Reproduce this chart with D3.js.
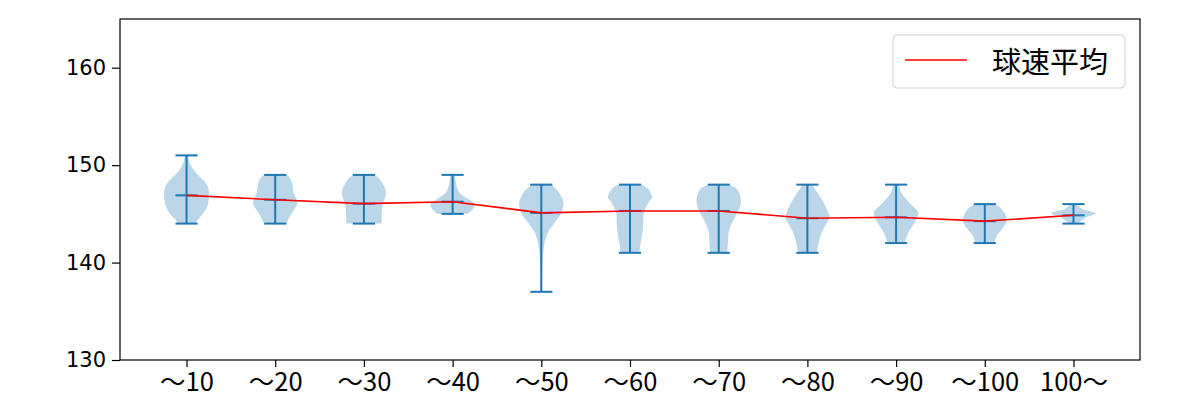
<!DOCTYPE html>
<html>
<head>
<meta charset="utf-8">
<script src="https://cdn.jsdelivr.net/npm/d3@7"></script>
<style>
  html, body { margin: 0; padding: 0; background: #fff; }
  svg { display: block; }
</style>
</head>
<body>
<svg id="chart" width="1200" height="400"></svg>
<script>
// ---------- data ----------
const categories = ["〜10", "〜20", "〜30", "〜40", "〜50", "〜60", "〜70", "〜80", "〜90", "〜100", "100〜"];
const minValues  = [144, 144, 144, 145, 137, 141, 141, 141, 142, 142, 144];
const maxValues  = [151, 149, 149, 149, 148, 148, 148, 148, 148, 146, 146];
const meanValues = [146.9, 146.45, 146.05, 146.25, 145.1, 145.3, 145.3, 144.55, 144.65, 144.25, 144.85];
// density profiles: [speed, relative density]
const densities = [
  [[144,0.4],[144.4,0.5],[145.1,0.77],[145.8,0.94],[146.5,1],[147.5,1],[148.2,0.86],[149.25,0.41],[150.2,0.15],[151,0.08]],
  [[144,0.5],[144.8,0.68],[145.5,0.87],[146.15,1],[147.2,0.83],[148.2,0.76],[148.8,0.62],[149,0.5]],
  [[144,0.8],[145,0.8],[145.8,0.83],[146.5,0.92],[147.2,1],[148.2,0.83],[148.7,0.65],[149,0.5]],
  [[145,0.7],[145.5,0.92],[146,1],[146.5,0.72],[147,0.38],[147.5,0.23],[148.2,0.15],[149,0.1]],
  [[137,0.03],[139.3,0.04],[141,0.08],[142,0.15],[143.1,0.3],[144.1,0.6],[145.1,0.9],[146.15,1],[147.2,0.8],[148,0.45]],
  [[141,0.42],[142,0.48],[143.1,0.56],[144.1,0.6],[145.1,0.62],[146.15,0.83],[146.7,1],[147.2,0.92],[147.7,0.75],[148,0.53]],
  [[141,0.38],[142,0.42],[143.1,0.45],[144.1,0.6],[145.1,0.83],[146.15,1],[147.2,0.92],[147.7,0.75],[148,0.45]],
  [[141,0.42],[142,0.5],[143.1,0.65],[144.1,0.88],[144.6,1],[145.1,0.95],[146.15,0.73],[147.2,0.45],[148,0.2]],
  [[142,0.38],[143.1,0.56],[144.1,0.83],[145.1,1],[146.15,0.6],[147.2,0.23],[148,0.15]],
  [[142,0.43],[142.7,0.53],[143.6,0.83],[144.4,1],[145.5,0.76],[146,0.43]],
  [[144,0.2],[144.3,0.35],[144.6,0.55],[145.05,1],[145.5,0.4],[146,0.1]]
];
const yTicks = [130, 140, 150, 160];
const legendLabel = "球速平均";

// ---------- layout ----------
const svg = d3.select("#chart");
const plotL = 120, plotR = 1140, plotT = 19, plotB = 360;
const blue = "#1f77b4";
const cjk = '"Noto Sans CJK JP", "Noto Sans", sans-serif';

const x = d3.scaleLinear().domain([0.25, categories.length + 0.75]).range([plotL, plotR]);
const y = d3.scaleLinear().domain([130, 165]).range([plotB, plotT]);
const halfW = x(1.25) - x(1);
const capW = x(1.125) - x(1);

// violins
const area = d3.area()
  .y(d => y(d[0]))
  .curve(d3.curveCatmullRom.alpha(0.5));

categories.forEach((c, i) => {
  const cx = x(i + 1);
  svg.append("path")
    .datum(densities[i])
    .attr("d", area.x0(d => cx - d[1] * halfW).x1(d => cx + d[1] * halfW))
    .attr("fill", blue)
    .attr("fill-opacity", 0.3)
    .attr("stroke", "none");
});

// bars, caps, means
categories.forEach((c, i) => {
  const cx = x(i + 1);
  const g = svg.append("g").attr("stroke", blue).attr("stroke-width", 2);
  g.append("line").attr("x1", cx).attr("x2", cx).attr("y1", y(minValues[i])).attr("y2", y(maxValues[i]));
  [minValues[i], maxValues[i], meanValues[i]].forEach(v => {
    g.append("line").attr("x1", cx - capW).attr("x2", cx + capW).attr("y1", y(v)).attr("y2", y(v));
  });
});

// mean line
svg.append("path")
  .datum(meanValues)
  .attr("d", d3.line().x((d, i) => x(i + 1)).y(d => y(d)))
  .attr("fill", "none")
  .attr("stroke", "red")
  .attr("stroke-width", 1.6);

// axes
const xAxis = d3.axisBottom(x)
  .tickValues(d3.range(1, categories.length + 1))
  .tickFormat(d => categories[d - 1])
  .tickSizeOuter(0).tickSize(7).tickPadding(6);
const gx = svg.append("g").attr("transform", `translate(0,${plotB})`).call(xAxis);
gx.select(".domain").remove();
gx.selectAll("text").style("font-size", "25.5px").style("font-family", cjk).attr("fill", "#000");
gx.selectAll("line").attr("stroke", "#000").attr("stroke-width", 1.2);

const yAxis = d3.axisLeft(y).tickValues(yTicks).tickSizeOuter(0).tickSize(8).tickPadding(6);
const gy = svg.append("g").attr("transform", `translate(${plotL},0)`).call(yAxis);
gy.select(".domain").remove();
gy.selectAll("text").style("font-size", "21px").style("font-family", '"DejaVu Sans", sans-serif').attr("fill", "#000");
gy.selectAll("line").attr("stroke", "#000").attr("stroke-width", 1.2);

// frame
svg.append("rect")
  .attr("x", plotL).attr("y", plotT).attr("width", plotR - plotL).attr("height", plotB - plotT)
  .attr("fill", "none").attr("stroke", "#000").attr("stroke-width", 1.2);

// legend
const lg = svg.append("g");
lg.append("rect")
  .attr("x", 893).attr("y", 35).attr("width", 232).attr("height", 53).attr("rx", 4)
  .attr("fill", "#fff").attr("fill-opacity", 0.8).attr("stroke", "#d0d0d0").attr("stroke-width", 1);
lg.append("line")
  .attr("x1", 905).attr("x2", 967).attr("y1", 60).attr("y2", 60)
  .attr("stroke", "red").attr("stroke-width", 1.6);
lg.append("text")
  .attr("x", 992).attr("y", 60).attr("dominant-baseline", "central")
  .style("font-size", "29px").style("font-family", cjk).attr("fill", "#000")
  .text(legendLabel);
</script>
</body>
</html>
